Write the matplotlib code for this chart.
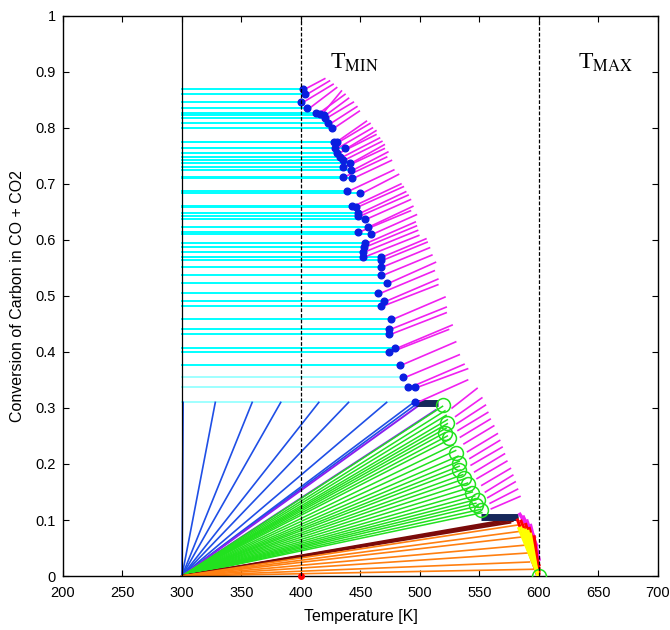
import matplotlib
matplotlib.use("Agg")
import matplotlib.pyplot as plt

plt.rcParams['font.family'] = ['Liberation Sans', 'DejaVu Sans']
plt.rcParams['mathtext.fontset'] = 'stix'

# start point of all the fan lines (inlet temperature, zero conversion)
T0, C0 = 300.0, 0.0

# blue dots on the curve (temperature, conversion); cyan lines run from 300 K to them
dot_T = [402, 403, 400, 405, 416, 413, 419, 420, 423, 426, 428, 430, 429, 437, 430,
         433, 435, 441, 435, 442, 435, 443, 439, 450, 443, 446, 448, 448, 454, 456,
         448, 459, 454, 453, 452, 452, 467, 467, 467, 467, 472, 465, 470, 467, 476,
         474, 474, 474, 479, 483, 486, 490, 496, 496]
dot_C = [0.870, 0.860, 0.846, 0.835, 0.825, 0.826, 0.823, 0.818, 0.808, 0.800,
         0.775, 0.775, 0.764, 0.764, 0.755, 0.748, 0.743, 0.738, 0.730, 0.725,
         0.713, 0.711, 0.688, 0.684, 0.661, 0.659, 0.648, 0.643, 0.638, 0.624,
         0.615, 0.611, 0.595, 0.588, 0.579, 0.570, 0.570, 0.564, 0.552, 0.537,
         0.523, 0.505, 0.491, 0.482, 0.459, 0.441, 0.432, 0.400, 0.407, 0.377,
         0.355, 0.337, 0.337, 0.310]

# end of the magenta trajectory leaving each dot
mag_T = [420, 424, 427, 430, 434, 437, 440, 444, 447, 449, 455, 458, 460, 463, 463,
         466, 468, 470, 470, 473, 472, 476, 478, 482, 484, 486, 488, 490, 492, 494,
         492, 497, 496, 497, 498, 499, 505, 506, 508, 510, 513, 512, 515, 515, 521,
         522, 522, 524, 527, 530, 533, 537, 540, 540]
mag_C = [0.888, 0.884, 0.878, 0.872, 0.866, 0.860, 0.853, 0.846, 0.838, 0.830,
         0.812, 0.808, 0.800, 0.795, 0.788, 0.782, 0.776, 0.770, 0.763, 0.757,
         0.748, 0.742, 0.725, 0.717, 0.700, 0.695, 0.686, 0.680, 0.672, 0.660,
         0.652, 0.645, 0.632, 0.625, 0.617, 0.608, 0.602, 0.596, 0.586, 0.573,
         0.560, 0.545, 0.530, 0.520, 0.498, 0.480, 0.470, 0.440, 0.448, 0.418,
         0.395, 0.378, 0.370, 0.350]

# magenta trajectories in the lower (green) zone
mag2_T0 = [527, 530, 531, 532, 534, 537, 540, 542, 543, 546, 548, 552, 555, 557, 559, 560]
mag2_C0 = [0.300, 0.285, 0.272, 0.260, 0.248, 0.236, 0.222, 0.210, 0.198, 0.186,
           0.174, 0.162, 0.150, 0.140, 0.130, 0.120]
mag2_T1 = [548, 552, 555, 557, 559, 562, 565, 567, 569, 571, 573, 576, 578, 580, 582, 584]
mag2_C1 = [0.335, 0.318, 0.305, 0.292, 0.280, 0.268, 0.254, 0.242, 0.230, 0.218,
           0.205, 0.192, 0.180, 0.168, 0.155, 0.142]

# magenta near the hot end
mag3_T0 = [584, 587, 590, 593]
mag3_C0 = [0.110, 0.105, 0.098, 0.090]
mag3_T1 = [596, 598, 599, 600]
mag3_C1 = [0.070, 0.055, 0.042, 0.030]

# blue fan from (300, 0) up to the 0.31 level
blue_T = [301, 328, 359, 383, 415, 440, 472, 496, 499]
blue_C = [0.310, 0.310, 0.310, 0.310, 0.310, 0.310, 0.310, 0.312, 0.310]
purple_T = [500, 513]
purple_C = [0.306, 0.296]

# green fan and open circles
green_T = [519, 521, 522, 523, 523, 522, 521, 523, 525, 528, 530, 532, 533, 533,
           534, 536, 538, 540, 542, 544, 546, 548, 547, 549, 551, 552]
green_C = [0.303, 0.295, 0.287, 0.279, 0.272, 0.264, 0.256, 0.250, 0.244, 0.234,
           0.224, 0.214, 0.205, 0.196, 0.189, 0.181, 0.174, 0.166, 0.158, 0.150,
           0.143, 0.137, 0.130, 0.125, 0.119, 0.113]
circ_T = [519, 523, 521, 524, 530, 533, 533, 537, 540, 544, 549, 547, 551, 600]
circ_C = [0.305, 0.273, 0.255, 0.246, 0.220, 0.201, 0.189, 0.175, 0.165, 0.148,
          0.136, 0.127, 0.118, 0.0]

# dark red and orange fans
maroon_T = [582, 580, 578, 576]
maroon_C = [0.104, 0.101, 0.098, 0.095]
orange_T = [582, 585, 587, 588, 590, 592, 595]
orange_C = [0.091, 0.080, 0.070, 0.055, 0.041, 0.025, 0.012]

# navy plateaus
navy1_T, navy1_C = [497, 515], [0.309, 0.309]
navy2_T, navy2_C = [551, 582], [0.106, 0.106]

# red and yellow descent to 600 K
red_T0 = [582, 585, 589, 592, 596]
red_C0 = [0.100, 0.098, 0.092, 0.085, 0.070]
red_T1 = [599, 600, 600, 600, 600]
red_C1 = [0.000, 0.020, 0.010, 0.015, 0.005]
yel_T0 = [583, 585, 587, 589, 591, 593]
yel_C0 = [0.085, 0.086, 0.083, 0.082, 0.080, 0.075]
yel_T1 = [599, 599, 599, 599, 599, 599]
yel_C1 = [0.002, 0.002, 0.002, 0.002, 0.002, 0.002]

fig = plt.figure(figsize=(6.7, 6.3), dpi=100)
ax = fig.add_axes([0.094, 0.0857, 0.888, 0.889])

# cyan horizontals (pale near the bottom)
for t, c in zip(dot_T, dot_C):
    col = '#00FFFF' if c > 0.36 else '#9FFFFF'
    ax.plot([T0, t], [c, c], color=col, lw=1.4, zorder=1)

for t, c in zip(blue_T, blue_C):
    ax.plot([T0, t], [C0, c], color='#1F4FE6', lw=1.2, zorder=2)
for t, c in zip(purple_T, purple_C):
    ax.plot([T0, t], [C0, c], color='#8A1FF0', lw=1.4, zorder=2)
for t, c in zip(green_T, green_C):
    ax.plot([T0, t], [C0, c], color='#22E11F', lw=1.1, zorder=2)
for t, c in zip(maroon_T, maroon_C):
    ax.plot([T0, t], [C0, c], color='#7A0A0A', lw=1.3, zorder=2)
for t, c in zip(orange_T, orange_C):
    ax.plot([T0, t], [C0, c], color='#FF7F10', lw=1.2, zorder=2)

ax.plot(navy1_T, navy1_C, color='#16285A', lw=5, solid_capstyle='butt', zorder=3)
ax.plot(navy2_T, navy2_C, color='#16285A', lw=5, solid_capstyle='butt', zorder=3)

for t0, c0, t1, c1 in zip(dot_T, dot_C, mag_T, mag_C):
    ax.plot([t0 + 2, t1], [c0, c1], color='#F020F0', lw=1.2, zorder=3)
for t0, c0, t1, c1 in zip(mag2_T0, mag2_C0, mag2_T1, mag2_C1):
    ax.plot([t0, t1], [c0, c1], color='#F020F0', lw=1.2, zorder=3)
for t0, c0, t1, c1 in zip(mag3_T0, mag3_C0, mag3_T1, mag3_C1):
    ax.plot([t0, t1], [c0, c1], color='#F020F0', lw=2.5, zorder=3)

for t0, c0, t1, c1 in zip(red_T0, red_C0, red_T1, red_C1):
    ax.plot([t0, t1], [c0, c1], color='#FF0000', lw=2.2, zorder=4)
for t0, c0, t1, c1 in zip(yel_T0, yel_C0, yel_T1, yel_C1):
    ax.plot([t0, t1], [c0, c1], color='#FFFF00', lw=2.0, zorder=4)

ax.plot(dot_T, dot_C, 'o', color='#0A1FE0', ms=4.8, zorder=5)
ax.plot(circ_T, circ_C, 'o', mfc='none', mec='#22E11F', ms=10, mew=1.1, zorder=5)
ax.plot([400], [0], 'o', color='#FF0000', ms=4, zorder=6, clip_on=False)

# reference temperatures
ax.axvline(300, color='black', lw=0.9, zorder=6)
ax.axvline(400, color='black', lw=0.9, ls=(0, (3, 1.5)), zorder=6)
ax.axvline(600, color='black', lw=0.9, ls=(0, (3, 1.5)), zorder=6)

ax.text(424, 0.905, r'T$_{\rm MIN}$', fontsize=17, family='Liberation Serif')
ax.text(633, 0.905, r'T$_{\rm MAX}$', fontsize=17, family='Liberation Serif')

ax.set_xlim(200, 700)
ax.set_ylim(0, 1)
ax.set_xticks(range(200, 701, 50))
ax.set_yticks([i / 10 for i in range(11)])
ax.set_yticklabels(['0', '0.1', '0.2', '0.3', '0.4', '0.5', '0.6', '0.7', '0.8', '0.9', '1'])
ax.tick_params(direction='in', top=True, right=True, length=4, labelsize=10.5)
ax.tick_params(axis='x', pad=7)
ax.tick_params(axis='y', pad=5)
for s in ax.spines.values():
    s.set_linewidth(1.0)
ax.set_xlabel('Temperature [K]', fontsize=11.5, labelpad=7)
ax.set_ylabel('Conversion of Carbon in CO + CO2', fontsize=11.5, labelpad=8)

fig.savefig('out.png', dpi=100)
